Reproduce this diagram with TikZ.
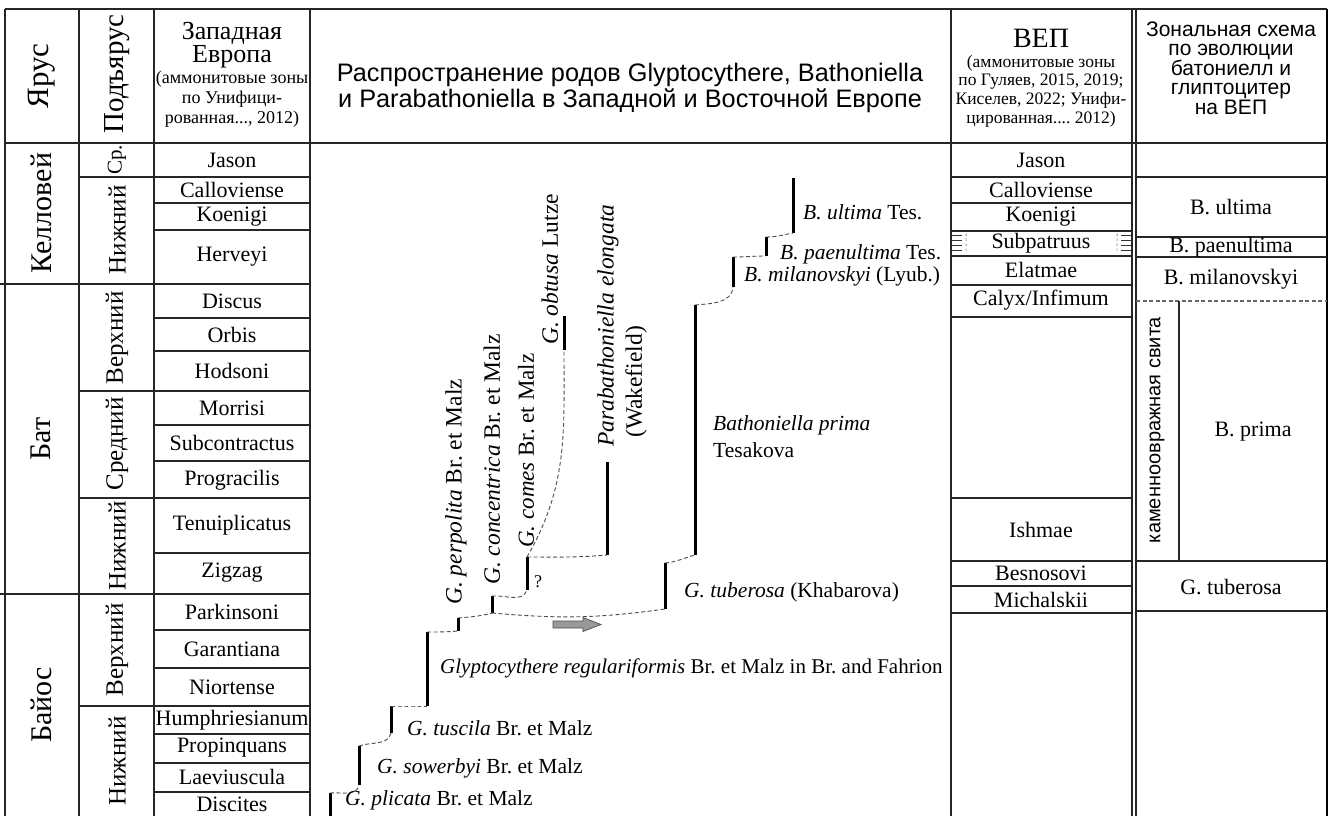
\documentclass[tikz,border=0pt]{standalone}
\usepackage{fontspec}
\setmainfont{Liberation Serif}
\newfontfamily\sansf{Liberation Sans}
\frenchspacing
\begin{document}
\begin{tikzpicture}[x=1pt,y=-1pt,
  tl/.style={line width=1.2pt,black!85},
  zn/.style={font=\fontsize{22}{24}\selectfont,inner sep=0pt},
  hd/.style={inner sep=0pt},
  spl/.style={font=\fontsize{21.5}{24}\selectfont,inner sep=0pt,anchor=west},
  rspl/.style={font=\fontsize{23.5}{24}\selectfont,inner sep=0pt,anchor=west,rotate=90},
  bar/.style={line width=3pt,black},
  dl/.style={dashed,dash pattern=on 4pt off 2.5pt,line width=0.9pt,black!70},
  mk/.style={line width=0.8pt,black!80},
  mnum/.style={font=\fontsize{4}{4}\selectfont,inner sep=0pt,black!70}
]
\useasboundingbox (0,0) rectangle (1333,816);
\fill[white] (0,0) rectangle (1333,816);

% ---------- frame ----------
\draw[tl] (5,9) -- (1327,9);
\foreach \xx in {5,79,154,310,951,1132,1136} {\draw[tl] (\xx,9) -- (\xx,816);}
\draw[line width=2.6pt,black] (1327,9) -- (1327,816);
\draw[tl] (5,143) -- (1327,143);
\draw[tl] (0,284) -- (310,284);
\draw[tl] (0,594) -- (310,594);
\foreach \yy in {177,391,498,706} {\draw[tl] (79,\yy) -- (310,\yy);}
\foreach \yy in {203,230,318,351,425,461,553,630,668,734,763,792} {\draw[tl] (154,\yy) -- (310,\yy);}
\foreach \yy in {177,203,231,256,285,317,498,561,586,613} {\draw[tl] (951,\yy) -- (1132,\yy);}
\foreach \yy in {177,237,257,561,611} {\draw[tl] (1136,\yy) -- (1327,\yy);}
\draw[tl,dashed,dash pattern=on 4pt off 2.5pt,black!60] (1136,301) -- (1327,301);
\draw[tl] (1179,301) -- (1179,561);

% ---------- headers ----------
\node[hd,rotate=90,font=\fontsize{31}{32}\selectfont] (hYarus) at (42,76) {Ярус};
\node[hd,rotate=90,font=\fontsize{29}{30}\selectfont] (hPod) at (117,74) {Подъярус};
\node[hd,align=center,font=\fontsize{26}{23.5}\selectfont] (hZap) at (232,45) {Западная\\Европа};
\node[hd,align=center,font=\fontsize{18}{20}\selectfont] (hZapS) at (232,99) {(аммонитовые зоны\\по Унифици-\\рованная..., 2012)};
\node[hd,align=center,font=\sansf\fontsize{25.3}{26}\selectfont] (hT) at (630,88) {Распространение родов Glyptocythere, Bathoniella\\и Parabathoniella в Западной и Восточной Европе};
\node[hd,font=\fontsize{28}{29}\selectfont] (hV1) at (1041,38) {ВЕП};
\node[hd,align=center,font=\fontsize{17.5}{18.7}\selectfont] (hV2) at (1041,91) {(аммонитовые зоны\\по Гуляев, 2015, 2019;\\Киселев, 2022; Унифи-\\цированная.... 2012)};
\node[hd,align=center,font=\sansf\fontsize{21}{18.8}\selectfont] (hS) at (1231,68) {Зональная схема\\по эволюции\\батониелл и\\глиптоцитер\\на ВЕП};

% ---------- stages / substages ----------
\node[hd,rotate=90,font=\fontsize{30}{31}\selectfont] (stK) at (41,213) {Келловей};
\node[hd,rotate=90,font=\fontsize{30}{31}\selectfont] (stB) at (41,439) {Бат};
\node[hd,rotate=90,font=\fontsize{30}{31}\selectfont] (stJ) at (41,705) {Байос};
\node[hd,rotate=90,font=\fontsize{21}{22}\selectfont] (ss1) at (117,160) {Ср.};
\node[hd,rotate=90,font=\fontsize{25}{26}\selectfont] (ss2) at (117,230) {Нижний};
\node[hd,rotate=90,font=\fontsize{25}{26}\selectfont] (ss3) at (117,338) {Верхний};
\node[hd,rotate=90,font=\fontsize{25}{26}\selectfont] (ss4) at (117,444) {Средний};
\node[hd,rotate=90,font=\fontsize{25}{26}\selectfont] (ss5) at (117,546) {Нижний};
\node[hd,rotate=90,font=\fontsize{25}{26}\selectfont] (ss6) at (117,650) {Верхний};
\node[hd,rotate=90,font=\fontsize{25}{26}\selectfont] (ss7) at (117,761) {Нижний};

% ---------- West European zones ----------
\foreach \nm/\yc in {Jason/160,Calloviense/190,Koenigi/217,Herveyi/257,Discus/301,Orbis/335,Hodsoni/371,Morrisi/408,Subcontractus/443,Progracilis/480,Tenuiplicatus/525,Zigzag/573,Parkinsoni/612,Garantiana/649,Niortense/687,Humphriesianum/720,Propinquans/748,Laeviuscula/777,Discites/804}
  {\node[zn] (w\nm) at (232,\yc) {\nm};}

% ---------- East European zones ----------
\foreach \nm/\yc in {Jason/160,Calloviense/190,Koenigi/217,Subpatruus/243,Elatmae/270,Ishmae/530,Besnosovi/573,Michalskii/600}
  {\node[zn] (e\nm) at (1041,\yc) {\nm};}
\node[zn] (eCalyx) at (1041,300) {Calyx/Infimum};

% Subpatruus subzone marks
\foreach \yy/\nn in {235/4,240/3,245/2,250/1} {
  \draw[mk] (951,\yy) -- (962,\yy);
  \node[mnum] (ml\nn) at (966,\yy) {\nn};
  \draw[mk] (1121,\yy) -- (1132,\yy);
  \node[mnum] (mr\nn) at (1117,\yy) {\nn};
}

% ---------- zonal scheme ----------
\node[zn] (sUlt) at (1231,207) {B. ultima};
\node[zn] (sPae) at (1231,247) {B. paenultima};
\node[zn] (sMil) at (1231,279) {B. milanovskyi};
\node[zn] (sPri) at (1253,432) {B. prima};
\node[zn] (sTub) at (1231,587) {G. tuberosa};
\node[hd,rotate=90,font=\sansf\fontsize{20}{21}\selectfont] (sKam) at (1157,430) {каменноовражная свита};

% ---------- ranges ----------
\coordinate (plT) at (330,793); \coordinate (plB) at (330,816);
\coordinate (soT) at (359,746); \coordinate (soB) at (359,785);
\coordinate (tuT) at (391,706); \coordinate (tuB) at (391,733);
\coordinate (reT) at (427,632); \coordinate (reB) at (427,706);
\coordinate (peT) at (458,618); \coordinate (peB) at (458,631);
\coordinate (coT) at (492,596); \coordinate (coB) at (492,613);
\coordinate (cmT) at (527,557); \coordinate (cmB) at (527,590);
\coordinate (obT) at (564,316); \coordinate (obB) at (564,350);
\coordinate (paT) at (607,462); \coordinate (paB) at (607,555);
\coordinate (tbT) at (665,563); \coordinate (tbB) at (665,609);
\coordinate (prT) at (695,305); \coordinate (prB) at (695,555);
\coordinate (miT) at (733,257); \coordinate (miB) at (733,287);
\coordinate (pnT) at (766,237); \coordinate (pnB) at (766,256);
\coordinate (ulT) at (793,178); \coordinate (ulB) at (793,233);

\foreach \s in {pl,so,tu,re,pe,co,cm,ob,pa,tb,pr,mi,pn,ul} {\draw[bar] (\s T) -- (\s B);}

\draw[dl] (plT) to[out=5,in=-100] (soB);
\draw[dl] (soT) to[out=20,in=-105] (tuB);
\draw[dl] (tuT) to[out=0,in=180] (reB);
\draw[dl] (reT) to[out=0,in=185] (peB);
\draw[dl] (peT) to[out=5,in=195] (coB);
\draw[dl] (coB) to[out=-5,in=188] (tbB);
\draw[dl] (coT) to[out=5,in=-110] (cmB);
\draw[dl] (cmT) to[out=0,in=185] (paB);
\draw[dl] (cmT) to[out=60,in=-90] (obB);
\draw[dl] (tbT) to[out=5,in=195] (prB);
\draw[dl] (prT) to[out=5,in=-95] (miB);
\draw[dl] (miT) to[out=0,in=180] (pnB);
\draw[dl] (pnT) to[out=0,in=190] (ulB);

% gray arrow
\draw[fill=black!40,draw=black!70,line width=0.7pt] (553,621) -- (583,621) -- (583,617.5) -- (601,624.5) -- (583,631.5) -- (583,628) -- (553,628) -- cycle;

% ---------- species labels ----------
\node[spl] (lPl) at (345,800) {\textit{G. plicata} Br. et Malz};
\node[spl] (lSo) at (377,768) {\textit{G. sowerbyi} Br. et Malz};
\node[spl] (lTu) at (407,728) {\textit{G. tuscila} Br. et Malz};
\node[spl,font=\fontsize{21}{24}\selectfont] (lRe) at (440,668) {\textit{Glyptocythere regulariformis} Br. et Malz in Br. and Fahrion};
\node[spl] (lTb) at (684,592) {\textit{G. tuberosa} (Khabarova)};
\node[spl] (lPr1) at (713,425) {\textit{Bathoniella prima}};
\node[spl] (lPr2) at (713,450) {Tesakova};
\node[spl] (lMi) at (744,276) {\textit{B. milanovskyi} (Lyub.)};
\node[spl] (lPn) at (780,254) {\textit{B. paenultima} Tes.};
\node[spl] (lUl) at (803,212) {\textit{B. ultima} Tes.};
\node[rspl] (lPe) at (456,605) {\textit{G. perpolita} Br. et Malz};
\node[rspl] (lCo) at (492,585) {\textit{G. concentrica} Br. et Malz};
\node[rspl,font=\fontsize{23}{24}\selectfont] (lCm) at (526,548) {\textit{G. comes} Br. et Malz};
\node[rspl] (lOb) at (550,345) {\textit{G. obtusa} Lutze};
\node[rspl] (lPa1) at (608,447) {\textit{Parabathoniella elongata}};
\node[rspl] (lPa2) at (636,438) {(Wakefield)};
\node[hd,font=\fontsize{18}{19}\selectfont] (lQ) at (538,582) {?};
\end{tikzpicture}
\end{document}
